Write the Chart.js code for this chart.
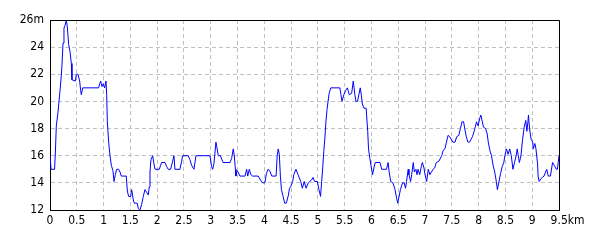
<!DOCTYPE html>
<html>
<head>
<meta charset="utf-8">
<script src="https://cdn.jsdelivr.net/npm/chart.js@4/dist/chart.umd.min.js"></script>
<style>
html,body{margin:0;padding:0;background:#fff;}
#wrap{width:600px;height:240px;}
</style>
</head>
<body>
<div id="wrap"><canvas id="c" width="600" height="240"></canvas></div>
<script>
const distKm = [0,0.02,0.085,0.10,0.118,0.149,0.168,0.187,0.211,0.224,0.243,0.261,0.28,0.305,0.323,0.348,0.373,0.398,0.41,0.473,0.491,0.522,0.554,0.572,0.585,0.61,0.908,0.927,0.945,0.97,0.995,1.02,1.045,1.058,1.07,1.095,1.12,1.144,1.175,1.194,1.219,1.244,1.281,1.306,1.331,1.424,1.443,1.468,1.505,1.524,1.555,1.573,1.629,1.648,1.679,1.71,1.741,1.772,1.804,1.834,1.853,1.866,1.884,1.916,1.94,1.959,2.04,2.065,2.083,2.146,2.177,2.207,2.251,2.289,2.313,2.332,2.425,2.457,2.475,2.58,2.612,2.643,2.687,2.724,2.985,3.016,3.035,3.06,3.097,3.12,3.14,3.18,3.23,3.36,3.39,3.42,3.44,3.46,3.47,3.49,3.51,3.545,3.64,3.67,3.69,3.72,3.75,3.78,3.887,3.93,3.97,4.01,4.04,4.07,4.10,4.14,4.22,4.24,4.26,4.28,4.30,4.32,4.35,4.38,4.41,4.45,4.47,4.49,4.53,4.55,4.59,4.63,4.68,4.71,4.745,4.78,4.82,4.85,4.88,4.91,4.94,4.99,5.02,5.05,5.07,5.09,5.11,5.13,5.15,5.17,5.19,5.21,5.24,5.41,5.43,5.45,5.485,5.517,5.55,5.565,5.585,5.63,5.66,5.69,5.71,5.74,5.765,5.79,5.81,5.83,5.86,5.90,5.93,5.945,5.97,5.99,6.02,6.045,6.07,6.16,6.19,6.28,6.31,6.33,6.36,6.40,6.44,6.47,6.49,6.51,6.54,6.58,6.61,6.635,6.655,6.685,6.70,6.73,6.75,6.78,6.80,6.83,6.85,6.87,6.90,6.93,6.95,6.98,7.00,7.03,7.06,7.09,7.12,7.15,7.18,7.21,7.26,7.31,7.34,7.37,7.40,7.43,7.46,7.49,7.52,7.56,7.59,7.63,7.66,7.69,7.72,7.74,7.77,7.80,7.83,7.885,7.93,7.96,7.99,8.02,8.04,8.07,8.09,8.13,8.16,8.18,8.21,8.24,8.27,8.30,8.33,8.35,8.38,8.41,8.44,8.47,8.49,8.52,8.55,8.58,8.61,8.64,8.67,8.70,8.72,8.76,8.79,8.82,8.85,8.88,8.90,8.92,8.93,8.95,8.98,9.01,9.02,9.05,9.07,9.10,9.11,9.13,9.16,9.19,9.22,9.25,9.27,9.30,9.34,9.38,9.41,9.45,9.47,9.50];
const elevM = [16,15,15,16.2,18.2,19.2,20,20.8,21.9,22.7,24.3,25.4,25.6,26,25.5,24.2,23.7,22.8,21.6,21.5,22,22,21.5,20.8,20.5,21,21,21.3,21.5,21.1,21.3,21,21.5,20.5,18.5,17,16,15.3,14.9,14.1,14.6,15,15,14.8,14.5,14.5,13.4,13,13,13.5,12.75,12.5,12.5,12.1,12,12.4,13,13.5,13.3,13.1,13.7,14.8,15.7,16,15.4,15,15,15.3,15.5,15.5,15.2,15,15,15.6,16,15,15,15.6,16,16,15.7,15.3,15,16,16,15.2,15,15.4,17,16.5,16,16,15.5,15.5,15.8,16.5,16,15,14.5,14.9,14.8,14.5,14.5,15,14.5,15,14.6,14.5,14.5,14.2,14,14,14.7,15,14.9,14.5,14.5,16,16.5,16.1,14.5,13.5,13,12.5,12.5,13.1,13.6,13.7,14.1,14.6,15,14.6,14.1,13.6,14.1,13.6,14,14.1,14.2,14.4,14.1,14.1,13.5,13,14.1,15.1,16.3,17.3,18.5,19.4,20,20.6,21,21,20.5,20,20.5,20.8,21,20.8,20.5,20.6,21.5,20.5,20,20,20.5,21,20.5,19.8,19.5,19.5,17.8,16.5,15.8,15.3,14.6,15.1,15.5,15.5,15,15,15.5,14.8,14.1,14,13.5,12.85,12.5,12.9,13.5,14,14,13.6,14.1,15,14.6,14.1,14.6,15.5,14.8,15,14.6,15,14.6,15.2,15.5,15.1,14.6,14.1,15,14.6,14.8,15,15.1,15.5,15.6,16,16.4,16.5,17,17.5,17.4,17.2,17,17,17.4,17.5,18,18.5,18.5,18,17.4,17,17,17.4,18,18.5,18.2,18.75,19,18.5,18.1,18,17.6,17,16.4,16,15.3,14.8,14.1,13.5,14.1,14.7,15.2,15.5,16,16.5,16.1,16.5,16,15,15.5,16,16.5,15.5,16,17.2,18.1,18.6,17.8,18.5,19,18,17.2,17,16.5,16.9,16.5,15.4,14.5,14.1,14.3,14.4,14.5,14.8,15,14.5,14.5,15.5,15.3,15,15,16];
const xTicks = [0,0.5,1,1.5,2,2.5,3,3.5,4,4.5,5,5.5,6,6.5,7,7.5,8,8.5,9,9.5];
const yTicks = [12,14,16,18,20,22,24,26];
const xUnit = 'km';
const yUnit = 'm';

const points = distKm.map((d, i) => ({x: d, y: elevM[i]}));
const FONT = {family: "'Liberation Sans Narrow','DejaVu Sans Condensed','Liberation Sans',sans-serif", size: 12};

const framePlugin = {
  id: 'frame',
  afterDraw(chart) {
    const {ctx, chartArea: a} = chart;
    ctx.save();
    ctx.strokeStyle = '#000';
    ctx.lineWidth = 1;
    ctx.beginPath();
    ctx.moveTo(a.left, a.top + 0.5);
    ctx.lineTo(a.right + 0.5, a.top + 0.5);
    ctx.lineTo(a.right + 0.5, a.bottom);
    ctx.stroke();
    ctx.restore();
  }
};

new Chart(document.getElementById('c'), {
  type: 'line',
  data: {
    datasets: [{
      data: points,
      borderColor: '#0000ff',
      borderWidth: 1,
      pointRadius: 0,
      tension: 0,
      fill: false
    }]
  },
  options: {
    responsive: false,
    animation: false,
    events: [],
    layout: {padding: {top: 20, right: 41, left: 0, bottom: 0}},
    plugins: {legend: {display: false}, tooltip: {enabled: false}},
    scales: {
      x: {
        type: 'linear',
        min: 0, max: 9.5,
        afterBuildTicks(scale) { scale.ticks = xTicks.map(v => ({value: v})); },
        afterFit(scale) { scale.height = 30; },
        ticks: {
          color: '#000', font: FONT, padding: 4, maxRotation: 0, autoSkip: false,
          callback: v => v === xTicks[xTicks.length - 1] ? '     ' + v + xUnit : String(v)
        },
        grid: {
          color: ctx => (ctx.index === 0 ? 'rgba(0,0,0,0)' : '#c0c0c0'),
          lineWidth: 1, drawTicks: false
        },
        border: {display: true, color: '#000', width: 1, dash: [4, 3]}
      },
      y: {
        type: 'linear',
        min: 12, max: 26,
        afterBuildTicks(scale) { scale.ticks = yTicks.map(v => ({value: v})); },
        afterFit(scale) { scale.width = 50; },
        ticks: {
          color: '#000', font: FONT, padding: 6, autoSkip: false,
          callback: v => v === yTicks[yTicks.length - 1] ? v + yUnit : String(v)
        },
        grid: {
          color: ctx => (ctx.index === 0 ? 'rgba(0,0,0,0)' : '#c0c0c0'),
          lineWidth: 1, drawTicks: false
        },
        border: {display: true, color: '#000', width: 1, dash: [4, 3]}
      }
    }
  },
  plugins: [framePlugin]
});
</script>
</body>
</html>
